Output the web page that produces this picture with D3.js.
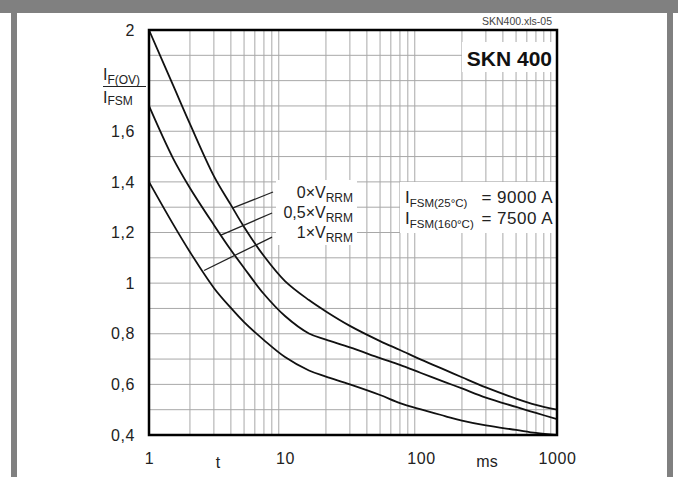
<!DOCTYPE html>
<html>
<head>
<meta charset="utf-8">
<script src="https://cdn.jsdelivr.net/npm/d3@7"></script>
<style>
  html, body { margin: 0; padding: 0; background: #fff; }
  svg { display: block; }
  text { font-family: "Liberation Sans", Arial, sans-serif; }
</style>
</head>
<body>
<div id="chart"></div>
<script>
// ---- data ----
const tValues = [1, 1.5, 2, 3, 4, 5, 7, 10, 15, 20, 30, 50, 70, 100, 150, 200, 300, 500, 700, 1000];
const ratio0VRRM = [2.0, 1.783, 1.629, 1.423, 1.309, 1.222, 1.107, 1.008, 0.933, 0.888, 0.831, 0.771, 0.736, 0.698, 0.657, 0.628, 0.588, 0.544, 0.519, 0.500];
const ratio05VRRM = [1.7, 1.494, 1.376, 1.230, 1.131, 1.060, 0.957, 0.870, 0.801, 0.777, 0.746, 0.704, 0.677, 0.645, 0.609, 0.584, 0.548, 0.511, 0.487, 0.463];
const ratio1VRRM = [1.4, 1.234, 1.123, 0.981, 0.902, 0.846, 0.775, 0.708, 0.655, 0.631, 0.600, 0.558, 0.526, 0.501, 0.475, 0.457, 0.438, 0.420, 0.408, 0.400];
const seriesLabels = ["0×V", "0,5×V", "1×V"];
const yTickValues = [2, 1.6, 1.4, 1.2, 1, 0.8, 0.6, 0.4];
const xTickValues = [1, 10, 100, 1000];
// leader lines: [label end (t, v), curve end (t, v)]
const leaderFrom = [[8.16, 1.36], [8.03, 1.277], [8.03, 1.182]];
const leaderTo = [[4.15, 1.297], [3.38, 1.19], [2.54, 1.05]];

const W = 678, H = 477;
const m = { left: 149, top: 30, right: 557, bottom: 435 };

const svg = d3.select("#chart").append("svg").attr("width", W).attr("height", H);

// frame
svg.append("rect").attr("x", 0).attr("y", 0).attr("width", W).attr("height", H).attr("fill", "#fff");
svg.append("rect").attr("x", 0).attr("y", 0).attr("width", W).attr("height", 13).attr("fill", "#808080");
svg.append("rect").attr("x", 11).attr("y", 0).attr("width", 6).attr("height", H).attr("fill", "#808080");
svg.append("rect").attr("x", 667).attr("y", 0).attr("width", 6).attr("height", H).attr("fill", "#808080");

const x = d3.scaleLog().domain([1, 1000]).range([m.left, m.right]);
const y = d3.scaleLinear().domain([0.4, 2]).range([m.bottom, m.top]);

// grid
const g = svg.append("g");
const xGrid = [];
for (let dec = 1; dec < 1000; dec *= 10) for (let k = 2; k <= 9; k++) xGrid.push(k * dec);
g.selectAll("line.vx").data(xGrid).enter().append("line")
  .attr("x1", d => x(d)).attr("x2", d => x(d))
  .attr("y1", m.top).attr("y2", m.bottom)
  .attr("stroke", "#a8a8a8").attr("stroke-width", 1);
const yGrid = d3.range(5, 20).map(i => i / 10);
g.selectAll("line.hy").data(yGrid).enter().append("line")
  .attr("x1", m.left).attr("x2", m.right)
  .attr("y1", d => y(d)).attr("y2", d => y(d))
  .attr("stroke", "#a8a8a8").attr("stroke-width", 1);

// white label boxes
svg.append("rect").attr("x", 462).attr("y", 42).attr("width", 94).attr("height", 30).attr("fill", "#fff");
svg.append("rect").attr("x", 276).attr("y", 180).attr("width", 81).attr("height", 65).attr("fill", "#fff");
svg.append("rect").attr("x", 400).attr("y", 182).attr("width", 156).attr("height", 51).attr("fill", "#fff");

// curves
const line = d3.line().x(d => x(d[0])).y(d => y(d[1])).curve(d3.curveCatmullRom.alpha(0.5));
[ratio0VRRM, ratio05VRRM, ratio1VRRM].forEach(vals => {
  svg.append("path").datum(tValues.map((t, i) => [t, vals[i]]))
    .attr("d", line).attr("fill", "none").attr("stroke", "#111").attr("stroke-width", 1.8);
});

// leader lines
leaderFrom.forEach((f, i) => {
  svg.append("line")
    .attr("x1", x(f[0])).attr("y1", y(f[1]))
    .attr("x2", x(leaderTo[i][0])).attr("y2", y(leaderTo[i][1]))
    .attr("stroke", "#222").attr("stroke-width", 1.3);
});

// plot border
svg.append("rect").attr("x", m.left).attr("y", m.top)
  .attr("width", m.right - m.left).attr("height", m.bottom - m.top)
  .attr("fill", "none").attr("stroke", "#000").attr("stroke-width", 2.5);

// axes (labels only)
const yAxis = d3.axisLeft(y).tickValues(yTickValues).tickSize(0).tickPadding(14)
  .tickFormat(d => String(d).replace(".", ","));
const ya = svg.append("g").attr("transform", `translate(${m.left},0)`).call(yAxis);
ya.select(".domain").remove();
ya.selectAll("text").attr("font-size", 16).attr("letter-spacing", 0.6).attr("fill", "#222")
  .attr("font-family", "Liberation Sans, Arial, sans-serif");

const xAxis = d3.axisBottom(x).tickValues(xTickValues).tickSize(0).tickPadding(18)
  .tickFormat(d3.format("d"));
const xa = svg.append("g").attr("transform", `translate(0,${m.bottom})`).call(xAxis);
xa.select(".domain").remove();
xa.selectAll("text").attr("font-size", 16).attr("letter-spacing", 0.6).attr("fill", "#222")
  .attr("font-family", "Liberation Sans, Arial, sans-serif");

svg.append("text").attr("x", 218).attr("y", 468).attr("text-anchor", "middle")
  .attr("font-size", 16).attr("fill", "#222").text("t");
svg.append("text").attr("x", 487).attr("y", 467).attr("text-anchor", "middle")
  .attr("font-size", 16).attr("fill", "#222").text("ms");

// y-axis label fraction
const yl = svg.append("text").attr("x", 103).attr("y", 80).attr("font-size", 16).attr("fill", "#222");
yl.append("tspan").text("I");
yl.append("tspan").attr("font-size", 12).attr("dy", 4).text("F(OV)");
svg.append("line").attr("x1", 103).attr("x2", 146).attr("y1", 86.5).attr("y2", 86.5)
  .attr("stroke", "#222").attr("stroke-width", 1.2);
const yl2 = svg.append("text").attr("x", 103).attr("y", 103).attr("font-size", 16).attr("fill", "#222");
yl2.append("tspan").text("I");
yl2.append("tspan").attr("font-size", 12).attr("dy", 2).text("FSM");

// titles
svg.append("text").attr("x", 552).attr("y", 25).attr("text-anchor", "end")
  .attr("font-size", 10.5).attr("fill", "#444").text("SKN400.xls-05");
svg.append("text").attr("x", 552).attr("y", 66).attr("text-anchor", "end")
  .attr("font-size", 21).attr("font-weight", "bold").attr("fill", "#111").text("SKN 400");

// legend labels
const legBase = [198, 218, 238];
seriesLabels.forEach((s, i) => {
  const t = svg.append("text").attr("x", 353).attr("y", legBase[i]).attr("text-anchor", "end")
    .attr("font-size", 16).attr("fill", "#222");
  t.append("tspan").text(s);
  t.append("tspan").attr("font-size", 12).attr("dy", 4).text("RRM");
});

// IFSM block
const ifsmSubs = ["FSM(25°C)", "FSM(160°C)"];
const ifsmVals = ["= 9000 A", "= 7500 A"];
const ifsmBase = [203, 224];
ifsmSubs.forEach((s, i) => {
  const t = svg.append("text").attr("x", 405).attr("y", ifsmBase[i]).attr("font-size", 17).attr("fill", "#222");
  t.append("tspan").text("I");
  t.append("tspan").attr("font-size", 11.5).attr("dy", 4).text(s);
  svg.append("text").attr("x", 553).attr("y", ifsmBase[i]).attr("text-anchor", "end")
    .attr("font-size", 17).attr("letter-spacing", 0.5).attr("fill", "#222").text(ifsmVals[i]);
});
</script>
</body>
</html>
